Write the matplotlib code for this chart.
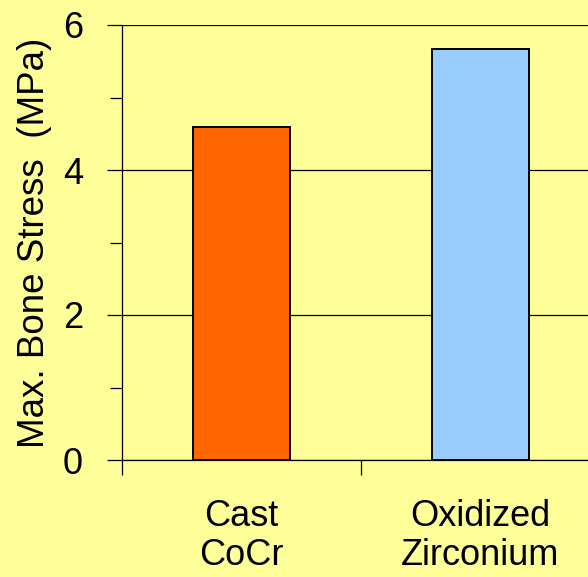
import numpy as np
import matplotlib.pyplot as plt
from matplotlib.ticker import FixedLocator

plt.rcParams['font.family'] = ['Liberation Sans', 'DejaVu Sans']

materials = ['Cast\nCoCr', 'Oxidized\nZirconium']
bone_stress = [4.6, 5.67]
bar_colors = ['#FF6600', '#99CCFF']

bg = '#FFFF99'
fig = plt.figure(figsize=(5.88, 5.77), dpi=100, facecolor=bg)
ax = fig.add_axes([122/588, 117/577, 478/588, 435/577])
ax.set_facecolor(bg)

x = np.arange(len(materials))
ax.bar(x, bone_stress, width=0.405, color=bar_colors, edgecolor='black',
       linewidth=1.4, zorder=3)

ax.set_xlim(-0.5, 1.5)
ax.set_ylim(0, 6)
ax.set_yticks([0, 2, 4, 6])
ax.yaxis.set_minor_locator(FixedLocator([1, 3, 5]))
ax.set_xticks(x)
ax.set_xticklabels(materials, linespacing=1.15)
ax.xaxis.set_minor_locator(FixedLocator([-0.5, 0.5, 1.5]))

ax.yaxis.grid(True, which='major', color='black', linewidth=0.9, zorder=0)
ax.set_axisbelow(True)

for side in ['top', 'right']:
    ax.spines[side].set_visible(False)
for side in ['left', 'bottom']:
    ax.spines[side].set_linewidth(0.9)

ax.tick_params(axis='y', which='major', length=11, width=0.9, pad=17, labelsize=26)
ax.tick_params(axis='y', which='minor', length=9, width=0.9)
ax.tick_params(axis='x', which='major', length=0, pad=28, labelsize=26)
ax.tick_params(axis='x', which='minor', length=11, width=0.9)

ax.set_ylabel('Max. Bone Stress  (MPa)', fontsize=26.5, labelpad=8)

fig.savefig('out.png', dpi=100, facecolor=bg)
